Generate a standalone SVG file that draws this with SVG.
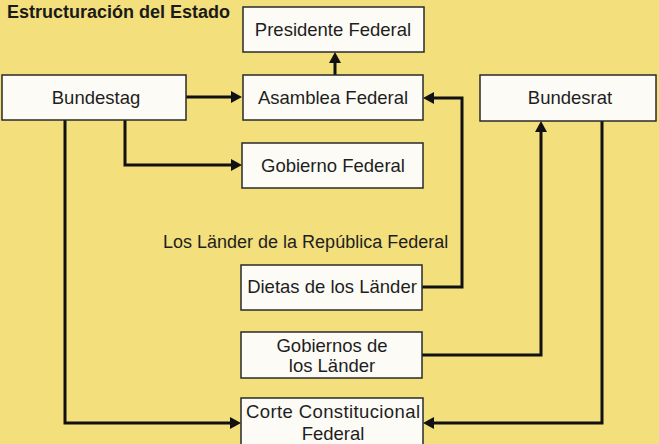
<svg xmlns="http://www.w3.org/2000/svg" width="659" height="444" viewBox="0 0 659 444">
<defs>
<style>
.box{fill:#fcfbf6;stroke:#2a2a2a;stroke-width:1.5}
.lbl{font-family:"Liberation Sans",Arial,sans-serif;font-size:18.5px;fill:#1e1e1e;text-anchor:middle}
.title{font-family:"Liberation Sans",Arial,sans-serif;font-size:18px;font-weight:bold;fill:#1a1a1a}
.sub{font-family:"Liberation Sans",Arial,sans-serif;font-size:18px;fill:#1e1e1e}
.con{fill:none;stroke:#111;stroke-width:3;marker-end:url(#ah)}
</style>
<marker id="ah" viewBox="0 0 11 12" refX="2" refY="6" markerWidth="11" markerHeight="12" markerUnits="userSpaceOnUse" orient="auto">
<path d="M0,0 L11,6 L0,12 z" fill="#111"/>
</marker>
</defs>
<rect width="659" height="444" fill="#f3df7c"/>
<text class="title" x="7" y="18">Estructuración del Estado</text>
<text class="sub" x="163" y="248">Los Länder de la República Federal</text>
<g id="connectors">
<path class="con" d="M186,97 H233"/>
<path class="con" d="M335,75 V61"/>
<path class="con" d="M125,120 V165 H233"/>
<path class="con" d="M65,120 V423 H232"/>
<path class="con" d="M422,287 H462 V98 H432"/>
<path class="con" d="M422,355 H541 V130"/>
<path class="con" d="M602,120 V423 H432"/>
</g>
<g id="presidente"><rect class="box" x="243" y="7" width="181" height="45"/><text class="lbl" x="333" y="36">Presidente Federal</text></g>
<g id="asamblea"><rect class="box" x="243" y="75" width="180" height="45"/><text class="lbl" x="333" y="104">Asamblea Federal</text></g>
<g id="bundestag"><rect class="box" x="2" y="75" width="184" height="45"/><text class="lbl" x="96" y="104">Bundestag</text></g>
<g id="bundesrat"><rect class="box" x="480" y="75" width="176" height="46"/><text class="lbl" x="570" y="104">Bundesrat</text></g>
<g id="gobierno"><rect class="box" x="242" y="143" width="181" height="45"/><text class="lbl" x="333" y="172">Gobierno Federal</text></g>
<g id="dietas"><rect class="box" x="241" y="265" width="181" height="45"/><text class="lbl" x="332" y="293">Dietas de los Länder</text></g>
<g id="gobiernos"><rect class="box" x="241" y="332" width="181" height="46"/><text class="lbl" x="332" y="352">Gobiernos de</text><text class="lbl" x="332" y="372">los Länder</text></g>
<g id="corte"><rect class="box" x="241" y="398" width="182" height="52"/><text class="lbl" x="333" y="418" textLength="174">Corte Constitucional</text><text class="lbl" x="333" y="440">Federal</text></g>
</svg>
